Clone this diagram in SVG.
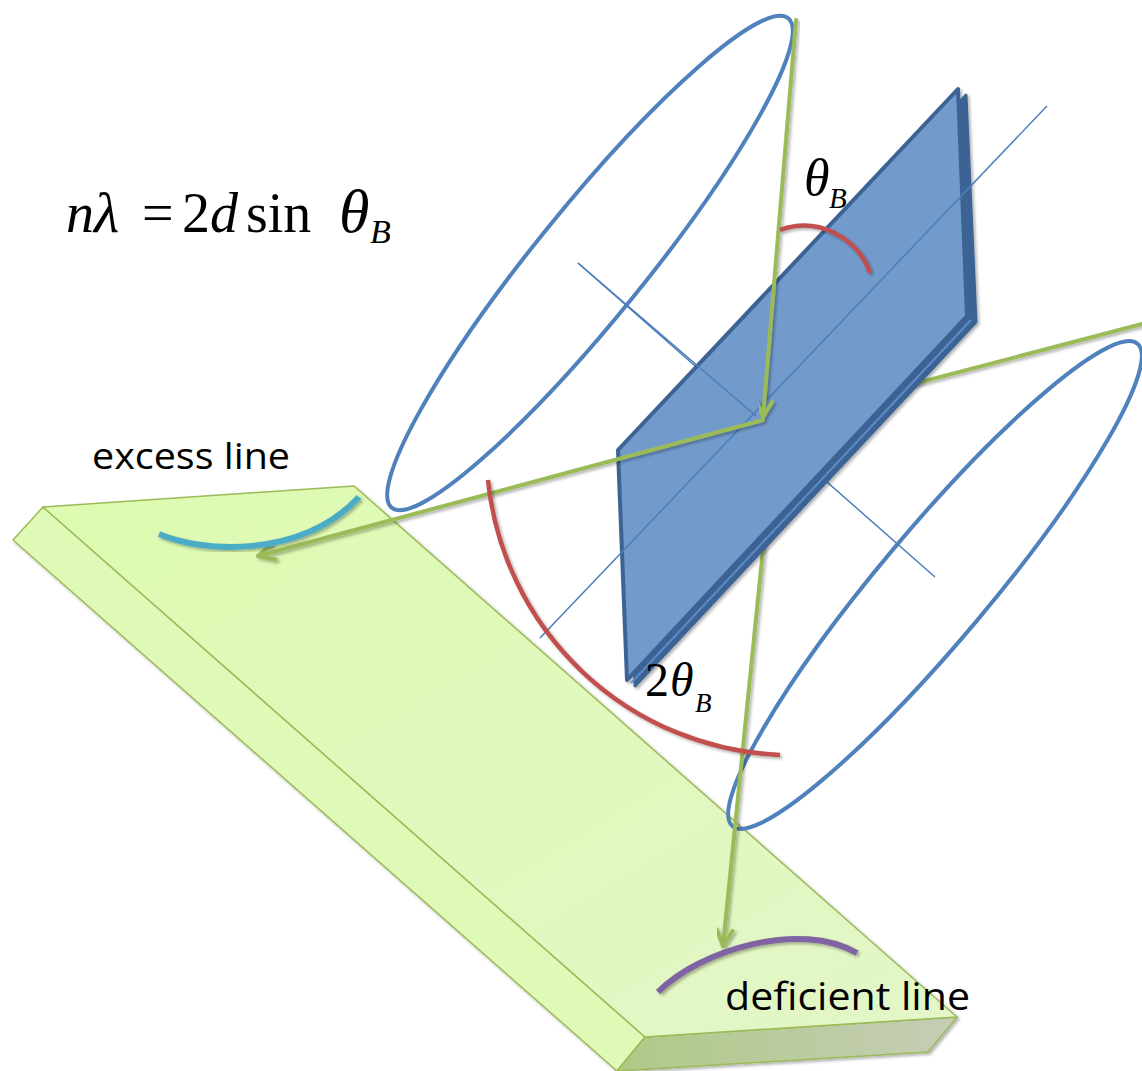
<svg xmlns="http://www.w3.org/2000/svg" width="1142" height="1071" viewBox="0 0 1142 1071">
  <defs>
    <style>
      .ray { fill: none; stroke: #9bbb59; stroke-width: 4; stroke-linecap: round; }
      .ring { fill: none; stroke: #4f81bd; stroke-width: 4; }
      .axis { fill: none; stroke: #4a7ebb; stroke-width: 1.5; }
      .angle { fill: none; stroke: #c0504d; stroke-width: 4.5; }
      .math { font-family: "Liberation Serif", "Times New Roman", serif; fill: #000; }
      .label { font-family: "Open Sans", "Liberation Sans", sans-serif; fill: #000; }
      .it { font-style: italic; }
    </style>
    <filter id="shadow" x="-10%" y="-10%" width="120%" height="120%">
      <feDropShadow dx="2" dy="2" stdDeviation="1.5" flood-color="#000" flood-opacity="0.3"/>
    </filter>
    <marker id="arrow" viewBox="0 0 20 20" markerWidth="20" markerHeight="20" refX="18" refY="10" orient="auto" markerUnits="userSpaceOnUse" overflow="visible">
      <path d="M2,2 L18,10 L2,18" fill="none" stroke="#9bbb59" stroke-width="4" stroke-linecap="round" stroke-linejoin="round"/>
    </marker>
    <linearGradient id="slabTop" x1="0" y1="0" x2="1" y2="1">
      <stop offset="0" stop-color="#ddfbb0"/>
      <stop offset="1" stop-color="#e3f6c8"/>
    </linearGradient>
    <linearGradient id="slabFront" x1="0" y1="0" x2="1" y2="0">
      <stop offset="0" stop-color="#afc987"/>
      <stop offset="1" stop-color="#c6cdb6"/>
    </linearGradient>
  </defs>

  <!-- detector slab -->
  <g id="slab" filter="url(#shadow)" stroke="#9bbb59" stroke-width="1.5" stroke-linejoin="round">
    <polygon points="43,507 645,1037 617,1071 13,540" fill="#dff9b6"/>
    <polygon points="645,1037 957,1017 928,1052 617,1071" fill="url(#slabFront)"/>
    <polygon points="43,507 354,486 957,1017 645,1037" fill="url(#slabTop)"/>
  </g>

  <!-- diffraction cones -->
  <g id="cone-upper">
    <ellipse class="ring" cx="590" cy="263" rx="315" ry="55" transform="rotate(-51 590 263)"/>
  </g>
  <g id="cone-lower">
    <ellipse class="ring" cx="935" cy="585" rx="315" ry="55" transform="rotate(-50 935 585)"/>
  </g>

  <!-- rays and axes passing behind the crystal -->
  <g id="connectors-back">
    <line class="axis" x1="578" y1="263" x2="935" y2="577"/>
    <path class="ray" filter="url(#shadow)" d="M1142,324 L860,398"/>
    <path class="ray" filter="url(#shadow)" d="M774,440 L723,946" marker-end="url(#arrow)"/>
  </g>

  <!-- crystal plate -->
  <g id="crystal" filter="url(#shadow)" stroke-linejoin="round">
    <polygon points="626,456 966,95 976,322 635,686" fill="#3c6394" stroke="#3c6394" stroke-width="3"/>
    <line x1="631" y1="683" x2="971" y2="320" stroke="#5b8cc8" stroke-width="2"/>
    <polygon points="618,450 958,89 967,316 627,680" fill="#729bcc" stroke="#3c6394" stroke-width="4"/>
  </g>

  <!-- axes, rays and angle marks in front -->
  <g id="connectors">
    <line class="axis" x1="540" y1="638" x2="1047" y2="106"/>
    <line class="axis" x1="578" y1="263" x2="756" y2="416"/>
    <path class="ray" filter="url(#shadow)" d="M796,20 L763,417" marker-end="url(#arrow)"/>
    <path class="ray" filter="url(#shadow)" d="M763,420 L258,556" marker-end="url(#arrow)"/>
    <path class="angle" filter="url(#shadow)" d="M780,230 A70,70 0 0 1 870,273"/>
    <path class="angle" filter="url(#shadow)" d="M488,480 A306,306 0 0 0 780,755"/>
  </g>

  <!-- lines on the detector -->
  <g id="excess-line">
    <path d="M159,534 C200,552 300,560 359,497" fill="none" stroke="#4bacc6" stroke-width="6" filter="url(#shadow)"/>
    <text class="label" x="92" y="469" font-size="37" textLength="198" lengthAdjust="spacingAndGlyphs">excess line</text>
  </g>
  <g id="deficient-line">
    <path d="M658,992 C700,950 800,920 857,953" fill="none" stroke="#8064a2" stroke-width="6" filter="url(#shadow)"/>
    <text class="label" x="725" y="1010" font-size="38" textLength="245" lengthAdjust="spacingAndGlyphs">deficient line</text>
  </g>

  <!-- Bragg law -->
  <g id="bragg-law">
    <text class="math" y="232" font-size="56"><tspan x="66" class="it">n</tspan><tspan class="it" font-size="58">λ</tspan><tspan x="142">=</tspan><tspan x="182">2</tspan><tspan class="it">d</tspan><tspan x="246">sin</tspan><tspan x="339" class="it" font-size="62">θ</tspan><tspan x="370" y="243" font-size="34" class="it">B</tspan></text>
  </g>

  <!-- angle labels -->
  <g id="theta-label">
    <text class="math" x="804" y="195" font-size="52"><tspan class="it">θ</tspan><tspan x="829" y="208" font-size="29" class="it">B</tspan></text>
  </g>
  <g id="two-theta-label">
    <text class="math" x="645" y="696" font-size="48">2<tspan x="670" class="it">θ</tspan><tspan x="695" y="712" font-size="27" class="it">B</tspan></text>
  </g>
</svg>
